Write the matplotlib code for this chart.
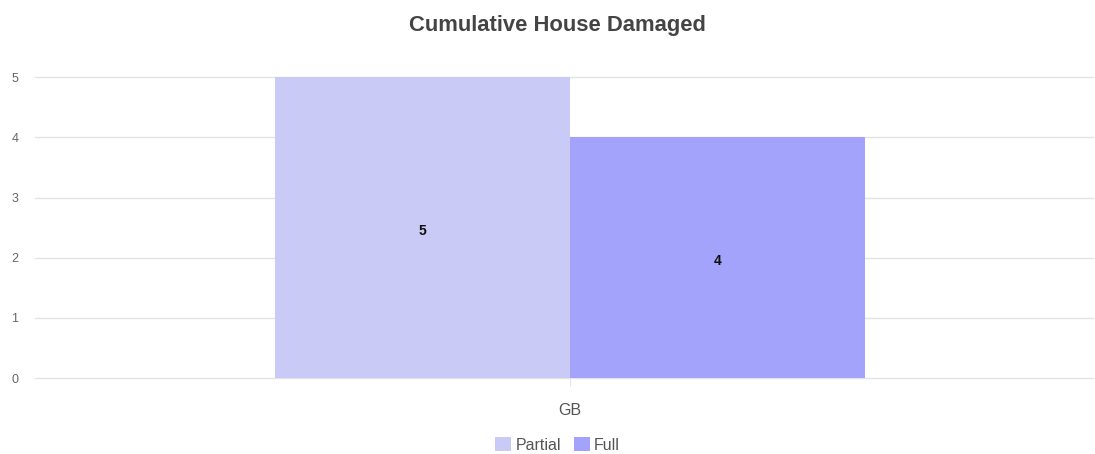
import matplotlib
matplotlib.use("Agg")
import matplotlib.pyplot as plt
import numpy as np

plt.rcParams['font.family'] = ['Liberation Sans', 'DejaVu Sans']

categories = ["GB"]
series_names = ["Partial", "Full"]
partial_vals = [5]
full_vals = [4]
colors = ["#CACAF6", "#A3A3FC"]

fig = plt.figure(figsize=(10.95, 4.54), dpi=100)
ax = fig.add_axes([0.032, 0.167, 0.966, 0.663])

x = np.arange(len(categories))
w = 0.279
b1 = ax.bar(x - w / 2, partial_vals, w, color=colors[0], label=series_names[0], zorder=2)
b2 = ax.bar(x + w / 2, full_vals, w, color=colors[1], label=series_names[1], zorder=2)

for bars, vals in ((b1, partial_vals), (b2, full_vals)):
    for r, v in zip(bars, vals):
        ax.text(r.get_x() + r.get_width() / 2, v / 2 - 0.06, str(v), ha="center", va="center",
                fontsize=10, fontweight="bold", color="#111111", zorder=3)

ax.set_ylim(0, 5)
ax.set_xlim(-0.506, 0.494)
ax.set_yticks(range(0, 6))
ax.set_xticks(x)
ax.set_xticklabels(categories)
ax.grid(axis="y", color="#e4e4e4", linewidth=1, zorder=0)
for gl in ax.yaxis.get_gridlines():
    gl.set_clip_on(False)
for s in ax.spines.values():
    s.set_visible(False)
ax.tick_params(axis="y", length=0, labelsize=9, labelcolor="#666666", pad=12)
ax.tick_params(axis="x", length=6, color="#e4e4e4", labelsize=11.5, labelcolor="#555555", pad=12)

fig.suptitle("Cumulative House Damaged", x=0.509, y=0.966, fontsize=15.8, fontweight="bold", color="#444444")

leg = fig.legend(handles=[b1, b2], labels=series_names, loc="center", bbox_to_anchor=(0.509, 0.02),
                 ncol=2, frameon=False, fontsize=11.5, handlelength=1.0, handleheight=1.0,
                 handletextpad=0.25, columnspacing=0.8)
for t in leg.get_texts():
    t.set_color("#555555")

fig.savefig("out.png", dpi=100)
